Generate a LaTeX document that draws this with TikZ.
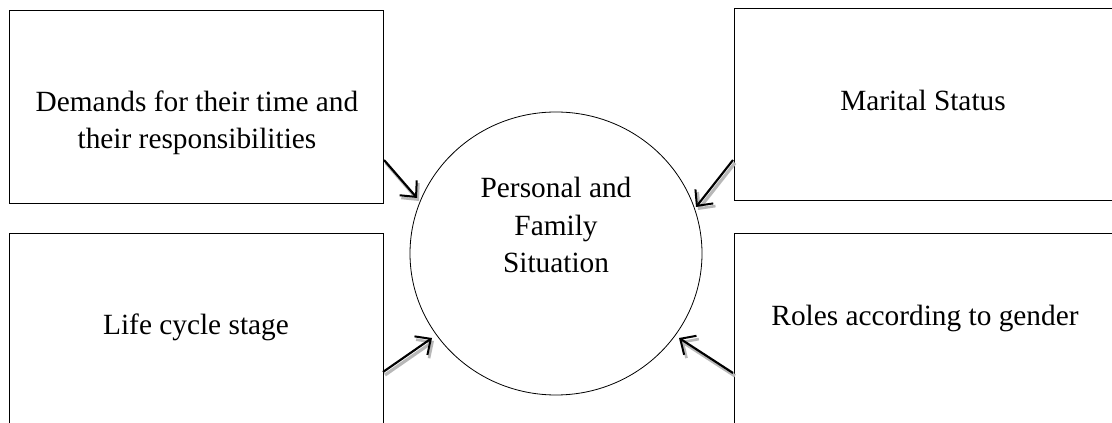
\documentclass[tikz,border=0pt]{standalone}
\usepackage{fontspec}
\setmainfont{Liberation Serif}
\usetikzlibrary{arrows.meta,shapes.geometric}
\begin{document}
\begin{tikzpicture}[x=0.75pt,y=-0.75pt,
  box/.style={draw=black,line width=0.6pt},
  lbl/.style={font=\fontsize{22}{28.1}\selectfont,align=center,inner sep=0pt},
  arr/.style={-{Straight Barb[length=9pt,width=17pt,line width=1.5pt]},line width=1.6pt,black},
  shad/.style={-{Straight Barb[length=9pt,width=17pt,line width=2pt]},line width=2.4pt,black!28}]
\useasboundingbox (0,0) rectangle (1112,423);
\clip (0,0) rectangle (1112,423);
\draw[box] (9,10.5) rectangle (383,203);
\draw[box] (734,8.5) rectangle (1130,200);
\draw[box] (9,233) rectangle (383,440);
\draw[box] (734,233) rectangle (1130,440);
\node[draw=black,line width=0.6pt,ellipse,minimum width=292*0.75pt,minimum height=283*0.75pt,inner sep=0pt] (c) at (556,253.5) {};
\node[lbl] (t1) at (197,123) {Demands for their time and\\their responsibilities};
\node[lbl,anchor=base] (t2) at (923,111) {Marital Status};
\node[lbl,anchor=base] (t3) at (196,335) {Life cycle stage};
\node[lbl,anchor=base] (t4) at (925,326) {Roles according to gender};
\node[lbl] (tc) at (556,225) {Personal and\\Family\\Situation};
\coordinate (a1s) at (384,160); \coordinate (a1e) at (417,198);
\coordinate (a2s) at (733,160); \coordinate (a2e) at (696,207);
\coordinate (a3s) at (383,372); \coordinate (a3e) at (432,338);
\coordinate (a4s) at (733,373); \coordinate (a4e) at (679,338);
\foreach \s/\e in {a1s/a1e,a2s/a2e,a3s/a3e,a4s/a4e}{
  \draw[shad] ([shift={(2,3)}]\s) -- ([shift={(2,3)}]\e);
  \draw[arr] (\s) -- (\e);
}
\end{tikzpicture}
\end{document}
